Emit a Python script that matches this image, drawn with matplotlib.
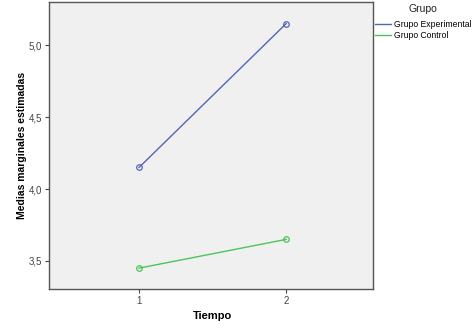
import matplotlib
matplotlib.use("Agg")
import matplotlib.pyplot as plt
from matplotlib.lines import Line2D

plt.rcParams["font.family"] = ["Liberation Sans", "DejaVu Sans"]

# --- data ---
tiempo = [1, 2]
experimental = [4.15, 5.15]
control = [3.45, 3.65]
yticks = [3.5, 4.0, 4.5, 5.0]
ytick_labels = ["3,5", "4,0", "4,5", "5,0"]
blue = "#5565b5"
green = "#4cc45a"

fig = plt.figure(figsize=(4.76, 3.32), dpi=100)
ax = fig.add_axes([49 / 476, 1 - 289 / 332, (373 - 49) / 476, (289 - 2) / 332])
ax.set_facecolor("#f0f0f0")

ax.plot(tiempo, experimental, color=blue, lw=1.0, marker="o", ms=4,
        mfc="none", mec=blue, mew=0.9)
ax.plot(tiempo, control, color=green, lw=1.0, marker="o", ms=4,
        mfc="none", mec=green, mew=0.9)

ax.set_xlim(0.388, 2.59)
ax.set_ylim(3.305, 5.30)
ax.set_xticks(tiempo)
ax.set_xticklabels(["1", "2"])
ax.set_yticks(yticks)
ax.set_yticklabels(ytick_labels)
ax.tick_params(labelsize=7, colors="#444444", length=3, width=0.8, pad=2)

for s in ax.spines.values():
    s.set_color("#555555")
    s.set_linewidth(1.0)

ax.set_xlabel("Tiempo", fontsize=8, fontweight="bold")
ax.set_ylabel("Medias marginales estimadas", fontsize=7.5, fontweight="bold")
ax.xaxis.set_label_coords(0.505, -0.094)
ax.yaxis.set_label_coords(-0.083, 0.5)
ax.xaxis.label.set_va("center")
ax.yaxis.label.set_va("center")

handles = [Line2D([], [], color=blue, lw=1.0), Line2D([], [], color=green, lw=1.0)]
fig.legend(handles, ["Grupo Experimental", "Grupo Control"], loc="upper left",
           bbox_to_anchor=(374 / 476, 1 - 19 / 332), frameon=False, fontsize=6.2,
           handlelength=1.9, handletextpad=0.3, labelspacing=0.25,
           borderaxespad=0, borderpad=0.1)
fig.text(423 / 476, 1 - 9 / 332, "Grupo", fontsize=7.5, ha="center", va="center",
         color="#222222")

fig.savefig("out.png", dpi=100)
